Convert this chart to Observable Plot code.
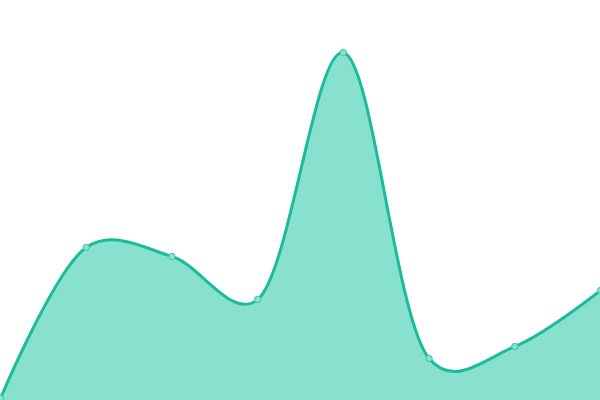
<!DOCTYPE html>
<html>
<head>
<meta charset="utf-8">
<script src="https://cdn.jsdelivr.net/npm/d3@7"></script>
<script src="https://cdn.jsdelivr.net/npm/@observablehq/plot@0.6"></script>
<style>
  html, body { margin: 0; padding: 0; background: #fff; }
</style>
</head>
<body>
<div id="chart"></div>
<script>
const categories = [0, 1, 2, 3, 4, 5, 6, 7];
const values = [2, 153, 144, 101, 348, 42, 54, 110];

const data = categories.map((c, i) => ({x: c, y: values[i]}));
const curve = d3.curveCatmullRom.alpha(0.22);

const chart = Plot.plot({
  width: 600,
  height: 400,
  margin: 0,
  x: {domain: [0, 7], axis: null},
  y: {domain: [0, 400], axis: null},
  marks: [
    Plot.areaY(data, {x: "x", y: "y", curve, fill: "#88e0cf"}),
    Plot.lineY(data, {x: "x", y: "y", curve, stroke: "#1abc9c", strokeWidth: 3}),
    Plot.dot(data, {x: "x", y: "y", r: 3.2, fill: "#88e0cf", stroke: "#3cc4a6", strokeWidth: 1})
  ]
});
document.getElementById("chart").appendChild(chart);
</script>
</body>
</html>
